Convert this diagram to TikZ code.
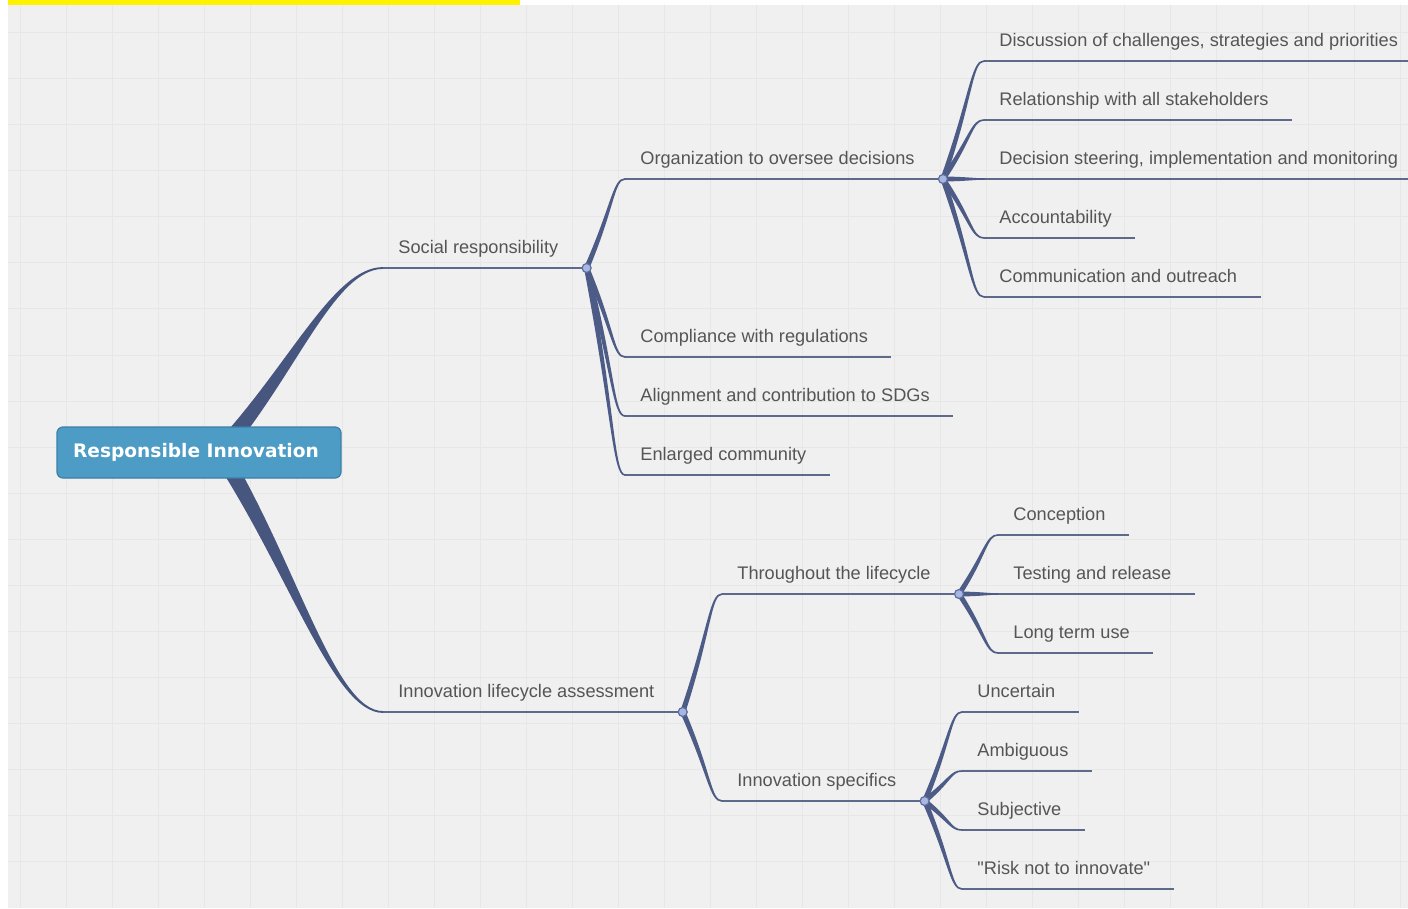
\documentclass[tikz,border=0pt]{standalone}
\usepackage{fontspec}
\usetikzlibrary{positioning, calc}
\newfontfamily\labelface{Liberation Sans}
\newfontfamily\rootface{DejaVu Sans}

\definecolor{paper}{HTML}{F0F0F0}
\definecolor{gridcol}{HTML}{E7E7E7}
\definecolor{boughcol}{HTML}{46567E}
\definecolor{twigcol}{HTML}{4D5C86}
\definecolor{rulecol}{HTML}{5E6A8A}
\definecolor{knotfill}{HTML}{A8B6E2}
\definecolor{knotline}{HTML}{5B6C9E}
\definecolor{rootfill}{HTML}{4C9CC5}
\definecolor{rootline}{HTML}{3C7FA8}
\definecolor{textgray}{HTML}{555555}

\pgfdeclarelayer{back}
\pgfsetlayers{back,main}

\tikzset{
    % tapered curve: fraction along, fraction back, half width
    flow/.style n args={3}{to path={
        -- ($(\tikztostart)!#3!90:(\tikztotarget)$)
        .. controls ($(\tikztostart)!#1!(\tikztotarget)+(\tikztostart)!.6*#3!90:(\tikztotarget)-(\tikztostart)$)
        and ($(\tikztotarget)!#2!(\tikztotarget-|\tikztostart)$) .. (\tikztotarget)
        .. controls ($(\tikztotarget)!#2!(\tikztotarget-|\tikztostart)$)
        and ($(\tikztostart)!#1!(\tikztotarget)+(\tikztostart)!.6*#3!-90:(\tikztotarget)-(\tikztostart)$)
        .. ($(\tikztostart)!#3!-90:(\tikztotarget)$) -- cycle}},
    bough/.style={draw=boughcol, fill=boughcol, line width=.9pt, line join=round, flow={.45}{.3}{3.8pt}},
    twig/.style={draw=twigcol, fill=twigcol, line width=.8pt, line join=round, flow={.7}{.3}{.9pt}},
    rule/.style={draw=rulecol, line width=.9pt},
    topic/.style={anchor=south west, inner sep=0pt, text=textgray, text depth=7pt,
        font=\labelface\fontsize{9.1}{11}\selectfont,
        execute at begin node=\hspace*{7.5pt}, execute at end node=\hspace*{#1}},
    topic/.default=11.5pt,
    knot/.style={circle, fill=knotfill, draw=knotline, line width=.6pt, inner sep=0pt, minimum size=4.5pt},
    root/.style={rounded corners=3pt, fill=rootfill, draw=rootline, line width=.6pt,
        minimum width=142pt, minimum height=25.5pt, text=white,
        font=\rootface\bfseries\fontsize{9.3}{11}\selectfont},
}

\begin{document}
\begin{tikzpicture}[x=0.5pt, y=-0.5pt]
    \useasboundingbox (0,0) rectangle (1408,909);
    \begin{pgfonlayer}{back}
        \fill[white] (0,0) rectangle (1408,909);
        \fill[paper] (8,5) rectangle (1408,908);
        \foreach \gx in {0,...,30}
            \draw[gridcol, line width=.5pt] ({20.7+46*\gx},5) -- ({20.7+46*\gx},908);
        \foreach \gy in {0,...,18}
            \draw[gridcol, line width=.5pt] (8,{33+46*\gy}) -- (1408,{33+46*\gy});
        \fill[yellow] (8,0) rectangle (520,5);
    \end{pgfonlayer}

    \node[root] (root) at (199,452.5) {Responsible Innovation\hspace*{3pt}};
    \coordinate (rootC) at (220,452);

    % first level
    \node[topic=14pt] (social) at (383,268) {Social responsibility};
    \node[topic=14pt] (assess) at (383,712) {Innovation lifecycle assessment};

    % social responsibility
    \node[topic=14pt] (org) at (625,179) {Organization to oversee decisions};
    \node[topic] (comply) at (625,357) {Compliance with regulations};
    \node[below=29.5pt of comply.south west, topic] (sdg) {Alignment and contribution to SDGs};
    \node[below=29.5pt of sdg.south west, topic] (community) {Enlarged community};

    \node[topic] (discuss) at (984,61) {Discussion of challenges, strategies and priorities};
    \node[below=29.5pt of discuss.south west, topic] (stake) {Relationship with all stakeholders};
    \node[below=29.5pt of stake.south west, topic] (steer) {Decision steering, implementation and monitoring};
    \node[below=29.5pt of steer.south west, topic] (account) {Accountability};
    \node[below=29.5pt of account.south west, topic] (outreach) {Communication and outreach};

    % lifecycle assessment
    \node[topic=14pt] (cycle) at (722,594) {Throughout the lifecycle};
    \node[topic=14pt] (specs) at (722,801) {Innovation specifics};

    \node[topic] (concept) at (998,535) {Conception};
    \node[below=29.5pt of concept.south west, topic] (testing) {Testing and release};
    \node[below=29.5pt of testing.south west, topic] (longterm) {Long term use};

    \node[topic] (uncertain) at (962,712) {Uncertain};
    \node[below=29.5pt of uncertain.south west, topic] (ambig) {Ambiguous};
    \node[below=29.5pt of ambig.south west, topic] (subject) {Subjective};
    \node[below=29.5pt of subject.south west, topic] (risk) {"Risk not to innovate"};

    \foreach \n in {social, assess, org, comply, sdg, community, discuss, stake, steer,
        account, outreach, cycle, specs, concept, testing, longterm, uncertain, ambig, subject, risk}
        \draw[rule] (\n.south west) -- (\n.south east);

    \begin{pgfonlayer}{back}
        \draw[bough] (rootC) to (social.south west);
        \draw[bough] (rootC) to (assess.south west);
    \end{pgfonlayer}

    \foreach \kid in {org, comply, sdg, community}
        \draw[twig] (social.south east) to (\kid.south west);
    \foreach \kid in {discuss, stake, steer, account, outreach}
        \draw[twig] (org.south east) to (\kid.south west);
    \foreach \kid in {cycle, specs}
        \draw[twig] (assess.south east) to (\kid.south west);
    \foreach \kid in {concept, testing, longterm}
        \draw[twig] (cycle.south east) to (\kid.south west);
    \foreach \kid in {uncertain, ambig, subject, risk}
        \draw[twig] (specs.south east) to (\kid.south west);

    \foreach \n in {social, assess, org, cycle, specs}
        \node[knot] (knot-\n) at (\n.south east) {};
\end{tikzpicture}
\end{document}
